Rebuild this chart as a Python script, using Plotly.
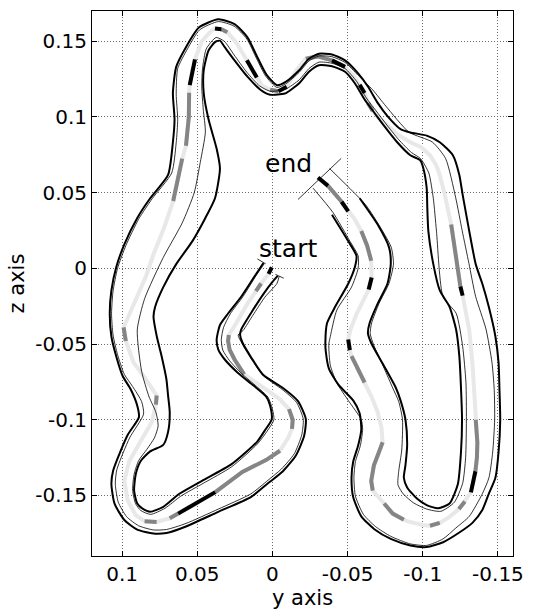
import plotly.graph_objects as go

# ---------------- data (y axis value, z axis value) ----------------
CENTER = [
    (0.0004, 0.0007), (0.0026, -0.0037), (0.0075, -0.0100), (0.0110, -0.0150), (0.0166, -0.0233),
    (0.0241, -0.0363), (0.0290, -0.0440), (0.0295, -0.0480), (0.0285, -0.0537), (0.0252, -0.0602),
    (0.0188, -0.0700), (0.0100, -0.0760), (0.0030, -0.0810), (-0.0050, -0.0865), (-0.0110, -0.0930),
    (-0.0135, -0.1000), (-0.0130, -0.1060), (-0.0105, -0.1120), (-0.0050, -0.1205), (0.0040, -0.1265),
    (0.0200, -0.1345), (0.0380, -0.1478), (0.0530, -0.1565), (0.0627, -0.1620), (0.0683, -0.1651),
    (0.0770, -0.1675), (0.0850, -0.1670), (0.0910, -0.1630), (0.0963, -0.1532), (0.0985, -0.1403),
    (0.0953, -0.1274), (0.0877, -0.1144), (0.0802, -0.1015), (0.0775, -0.0900), (0.0770, -0.0840),
    (0.0850, -0.0720), (0.0925, -0.0620), (0.0975, -0.0480), (0.0990, -0.0390), (0.0950, -0.0300),
    (0.0899, -0.0189), (0.0840, -0.0050), (0.0791, 0.0093), (0.0720, 0.0270), (0.0660, 0.0445),
    (0.0630, 0.0600), (0.0600, 0.0725), (0.0575, 0.0810), (0.0556, 0.1000), (0.0554, 0.1160),
    (0.0550, 0.1210), (0.0535, 0.1300), (0.0515, 0.1380), (0.0470, 0.1500), (0.0410, 0.1565),
    (0.0382, 0.1585), (0.0339, 0.1580), (0.0300, 0.1560), (0.0240, 0.1490), (0.0170, 0.1375),
    (0.0104, 0.1260), (0.0070, 0.1210), (0.0015, 0.1180), (-0.0040, 0.1170), (-0.0095, 0.1200),
    (-0.0160, 0.1310), (-0.0222, 0.1385), (-0.0300, 0.1400), (-0.0396, 0.1374), (-0.0483, 0.1331),
    (-0.0540, 0.1270), (-0.0580, 0.1212), (-0.0613, 0.1158), (-0.0635, 0.1093), (-0.0667, 0.1039),
    (-0.0700, 0.1000), (-0.0765, 0.0941), (-0.0840, 0.0880), (-0.0917, 0.0833), (-0.0990, 0.0800),
    (-0.1048, 0.0747), (-0.1090, 0.0680), (-0.1113, 0.0617), (-0.1146, 0.0487), (-0.1189, 0.0290),
    (-0.1220, 0.0060), (-0.1250, -0.0120), (-0.1265, -0.0180), (-0.1290, -0.0300), (-0.1309, -0.0407),
    (-0.1330, -0.0624), (-0.1341, -0.0798), (-0.1352, -0.1000), (-0.1363, -0.1150), (-0.1360, -0.1250),
    (-0.1350, -0.1340), (-0.1320, -0.1480), (-0.1280, -0.1540), (-0.1240, -0.1590), (-0.1180, -0.1640),
    (-0.1113, -0.1681), (-0.1048, -0.1700), (-0.1000, -0.1695), (-0.0900, -0.1672), (-0.0874, -0.1660),
    (-0.0800, -0.1620), (-0.0743, -0.1553), (-0.0700, -0.1500), (-0.0667, -0.1468), (-0.0657, -0.1404),
    (-0.0675, -0.1300), (-0.0705, -0.1230), (-0.0733, -0.1149), (-0.0725, -0.1050), (-0.0700, -0.0950),
    (-0.0660, -0.0850), (-0.0613, -0.0754), (-0.0550, -0.0620), (-0.0526, -0.0580), (-0.0515, -0.0540),
    (-0.0504, -0.0470), (-0.0520, -0.0400), (-0.0560, -0.0300), (-0.0610, -0.0200), (-0.0640, -0.0140),
    (-0.0660, -0.0060), (-0.0657, 0.0050), (-0.0630, 0.0150), (-0.0591, 0.0246), (-0.0550, 0.0320),
    (-0.0504, 0.0376), (-0.0460, 0.0440), (-0.0420, 0.0490), (-0.0370, 0.0545), (-0.0303, 0.0600),
]
# index ranges of the centre line drawn mid grey / black
GRAY_RUNS = [(2, 3), (6, 10), (14, 16), (18, 21), (23, 24), (25, 26), (33, 34), (37, 38), (44, 46),
             (47, 49), (56, 57), (62, 63), (66, 68), (73, 74), (84, 86), (92, 95), (97, 98), (100, 101),
             (104, 106), (108, 112), (116, 118), (126, 128), (131, 133)]
BLACK_RUNS = [(0, 1), (21, 23), (50, 52), (55, 56), (59, 60), (63, 64), (68, 69), (71, 72), (86, 87),
              (95, 96), (119, 120), (124, 125), (130, 131), (133, 134)]

OUTER = [
    (-0.0035, -0.0050), (0.0000, -0.0090), (0.0058, -0.0167), (0.0144, -0.0298), (0.0209, -0.0407),
    (0.0215, -0.0440), (0.0198, -0.0493), (0.0140, -0.0590), (0.0062, -0.0703), (-0.0070, -0.0790),
    (-0.0170, -0.0877), (-0.0222, -0.0995), (-0.0211, -0.1106), (-0.0157, -0.1234), (-0.0070, -0.1340),
    (0.0030, -0.1420), (0.0144, -0.1511), (0.0360, -0.1608), (0.0575, -0.1705), (0.0705, -0.1748),
    (0.0791, -0.1752), (0.0899, -0.1726), (0.0985, -0.1662), (0.1050, -0.1554), (0.1071, -0.1425),
    (0.1060, -0.1338), (0.0963, -0.1101), (0.0888, -0.0983), (0.0899, -0.0907), (0.0942, -0.0800),
    (0.0996, -0.0711), (0.1039, -0.0580), (0.1071, -0.0450), (0.1082, -0.0298), (0.1071, -0.0146),
    (0.1039, 0.0007), (0.0985, 0.0159), (0.0899, 0.0333), (0.0813, 0.0463), (0.0694, 0.0617),
    (0.0662, 0.0833), (0.0651, 0.0985), (0.0662, 0.1158), (0.0640, 0.1331), (0.0575, 0.1461),
    (0.0489, 0.1591), (0.0360, 0.1645), (0.0252, 0.1613), (0.0166, 0.1526), (0.0101, 0.1396),
    (0.0040, 0.1280), (-0.0030, 0.1210), (-0.0091, 0.1234), (-0.0178, 0.1309), (-0.0243, 0.1385),
    (-0.0309, 0.1418), (-0.0396, 0.1413), (-0.0483, 0.1374), (-0.0570, 0.1288), (-0.0635, 0.1201),
    (-0.0700, 0.1093), (-0.0765, 0.1006), (-0.0852, 0.0920), (-0.0917, 0.0898), (-0.1026, 0.0877),
    (-0.1113, 0.0833), (-0.1200, 0.0747), (-0.1243, 0.0617), (-0.1265, 0.0487), (-0.1309, 0.0246),
    (-0.1352, 0.0028), (-0.1396, -0.0102), (-0.1439, -0.0254), (-0.1483, -0.0450), (-0.1504, -0.0624),
    (-0.1510, -0.0800), (-0.1515, -0.1000), (-0.1504, -0.1213), (-0.1483, -0.1383), (-0.1439, -0.1489),
    (-0.1396, -0.1596), (-0.1330, -0.1681), (-0.1243, -0.1745), (-0.1135, -0.1809), (-0.1026, -0.1841),
    (-0.0917, -0.1830), (-0.0787, -0.1787), (-0.0678, -0.1723), (-0.0591, -0.1638), (-0.0537, -0.1511),
    (-0.0526, -0.1383), (-0.0537, -0.1277), (-0.0570, -0.1170), (-0.0591, -0.1064), (-0.0580, -0.0957),
    (-0.0537, -0.0872), (-0.0440, -0.0770), (-0.0375, -0.0660), (-0.0355, -0.0550), (-0.0352, -0.0493),
    (-0.0363, -0.0363), (-0.0417, -0.0254), (-0.0504, -0.0102), (-0.0548, 0.0007), (-0.0559, 0.0083),
    (-0.0504, 0.0180), (-0.0396, 0.0354),
]
INNER = [
    (0.0060, 0.0035), (0.0123, -0.0059), (0.0209, -0.0189), (0.0295, -0.0298), (0.0349, -0.0374),
    (0.0371, -0.0472), (0.0360, -0.0537), (0.0317, -0.0602), (0.0231, -0.0689), (0.0123, -0.0776),
    (0.0040, -0.0850), (0.0010, -0.0930), (0.0005, -0.0998), (0.0050, -0.1070), (0.0101, -0.1144),
    (0.0274, -0.1295), (0.0468, -0.1403), (0.0619, -0.1489), (0.0726, -0.1575), (0.0813, -0.1608),
    (0.0866, -0.1586), (0.0899, -0.1554), (0.0920, -0.1468), (0.0909, -0.1360), (0.0877, -0.1274),
    (0.0813, -0.1209), (0.0726, -0.1166), (0.0694, -0.1080), (0.0683, -0.0950), (0.0694, -0.0841),
    (0.0705, -0.0733), (0.0737, -0.0580), (0.0769, -0.0450), (0.0791, -0.0320), (0.0780, -0.0254),
    (0.0726, -0.0124), (0.0640, 0.0028), (0.0532, 0.0180), (0.0446, 0.0333), (0.0382, 0.0463),
    (0.0349, 0.0660), (0.0371, 0.0790), (0.0425, 0.0985), (0.0457, 0.1158), (0.0457, 0.1309),
    (0.0425, 0.1439), (0.0382, 0.1494), (0.0349, 0.1504), (0.0317, 0.1461), (0.0252, 0.1374),
    (0.0166, 0.1266), (0.0080, 0.1180), (0.0015, 0.1147), (-0.0050, 0.1150), (-0.0091, 0.1158),
    (-0.0178, 0.1223), (-0.0243, 0.1299), (-0.0309, 0.1342), (-0.0396, 0.1335), (-0.0483, 0.1299),
    (-0.0548, 0.1223), (-0.0613, 0.1115), (-0.0678, 0.1028), (-0.0743, 0.0941), (-0.0830, 0.0833),
    (-0.0917, 0.0747), (-0.0983, 0.0714), (-0.1004, 0.0660), (-0.1026, 0.0530), (-0.1030, 0.0400),
    (-0.1037, 0.0246), (-0.1070, 0.0028), (-0.1113, -0.0146), (-0.1178, -0.0254), (-0.1222, -0.0407),
    (-0.1243, -0.0580), (-0.1254, -0.0787), (-0.1261, -0.1000), (-0.1254, -0.1213), (-0.1233, -0.1426),
    (-0.1178, -0.1553), (-0.1102, -0.1585), (-0.1026, -0.1564), (-0.0961, -0.1521), (-0.0896, -0.1447),
    (-0.0874, -0.1383), (-0.0885, -0.1298), (-0.0896, -0.1170), (-0.0885, -0.1000), (-0.0852, -0.0872),
    (-0.0820, -0.0787), (-0.0743, -0.0646), (-0.0657, -0.0493), (-0.0635, -0.0428), (-0.0646, -0.0363),
    (-0.0700, -0.0233), (-0.0765, -0.0102), (-0.0787, 0.0028), (-0.0776, 0.0137), (-0.0700, 0.0289),
    (-0.0580, 0.0463),
]
THIN_OUTER = [
    (-0.0045, -0.0052), (-0.0030, -0.0100), (0.0050, -0.0190), (0.0130, -0.0310), (0.0195, -0.0410),
    (0.0228, -0.0440), (0.0200, -0.0500), (0.0140, -0.0600), (0.0060, -0.0710), (-0.0065, -0.0800),
    (-0.0160, -0.0885), (-0.0205, -0.0995), (-0.0195, -0.1100), (-0.0145, -0.1225), (-0.0060, -0.1325),
    (0.0030, -0.1400), (0.0144, -0.1490), (0.0360, -0.1590), (0.0575, -0.1685), (0.0705, -0.1725),
    (0.0791, -0.1728), (0.0890, -0.1700), (0.0970, -0.1640), (0.1025, -0.1545), (0.1045, -0.1425),
    (0.1035, -0.1330), (0.0950, -0.1120), (0.0857, -0.0963), (0.0870, -0.0880), (0.0930, -0.0780),
    (0.0985, -0.0700), (0.1030, -0.0570), (0.1060, -0.0440), (0.1070, -0.0300), (0.1060, -0.0150),
    (0.1030, 0.0000), (0.0975, 0.0150), (0.0890, 0.0325), (0.0800, 0.0460), (0.0670, 0.0630),
    (0.0640, 0.0830), (0.0630, 0.0985), (0.0640, 0.1150), (0.0630, 0.1320), (0.0565, 0.1450),
    (0.0485, 0.1575), (0.0360, 0.1630), (0.0255, 0.1600), (0.0170, 0.1515), (0.0105, 0.1385),
    (0.0045, 0.1270), (-0.0030, 0.1195), (-0.0091, 0.1220), (-0.0178, 0.1295), (-0.0243, 0.1370),
    (-0.0309, 0.1403), (-0.0396, 0.1398), (-0.0483, 0.1360), (-0.0570, 0.1275), (-0.0666, 0.1180),
    (-0.0755, 0.1071), (-0.0909, 0.0899), (-0.1064, 0.0834), (-0.1152, 0.0725), (-0.1219, 0.0466),
    (-0.1262, 0.0249), (-0.1307, 0.0032), (-0.1351, -0.0184), (-0.1420, -0.0400), (-0.1460, -0.0620),
    (-0.1475, -0.0800), (-0.1478, -0.1000), (-0.1465, -0.1213), (-0.1440, -0.1383), (-0.1396, -0.1489),
    (-0.1309, -0.1638), (-0.1220, -0.1715), (-0.1135, -0.1787), (-0.1026, -0.1830), (-0.0917, -0.1820),
    (-0.0787, -0.1770), (-0.0685, -0.1705), (-0.0605, -0.1625), (-0.0552, -0.1505), (-0.0542, -0.1383),
    (-0.0552, -0.1277), (-0.0585, -0.1170), (-0.0600, -0.1064), (-0.0591, -0.1000), (-0.0504, -0.0872),
    (-0.0430, -0.0760), (-0.0385, -0.0640), (-0.0375, -0.0500), (-0.0385, -0.0450), (-0.0428, -0.0276),
    (-0.0526, -0.0124), (-0.0570, 0.0000), (-0.0570, 0.0083), (-0.0515, 0.0180), (-0.0402, 0.0370),
    (-0.0270, 0.0530),
]
THIN_INNER = [
    (0.0055, 0.0030), (0.0110, -0.0050), (0.0195, -0.0185), (0.0280, -0.0300), (0.0325, -0.0390),
    (0.0340, -0.0470), (0.0330, -0.0540), (0.0285, -0.0610), (0.0205, -0.0695), (0.0105, -0.0780),
    (0.0030, -0.0850), (0.0000, -0.0930), (-0.0010, -0.1000), (0.0035, -0.1075), (0.0100, -0.1160),
    (0.0270, -0.1310), (0.0460, -0.1420), (0.0610, -0.1505), (0.0715, -0.1585), (0.0810, -0.1625),
    (0.0875, -0.1600), (0.0910, -0.1555), (0.0930, -0.1465), (0.0920, -0.1360), (0.0890, -0.1270),
    (0.0835, -0.1195), (0.0785, -0.1120), (0.0760, -0.1040), (0.0775, -0.0950), (0.0820, -0.0850),
    (0.0870, -0.0680), (0.0899, -0.0407), (0.0850, -0.0200), (0.0726, 0.0072), (0.0600, 0.0300),
    (0.0520, 0.0500), (0.0480, 0.0700), (0.0446, 0.0900), (0.0460, 0.1050), (0.0470, 0.1200),
    (0.0465, 0.1320), (0.0440, 0.1450), (0.0375, 0.1525), (0.0320, 0.1500), (0.0255, 0.1410),
    (0.0170, 0.1295), (0.0085, 0.1205), (0.0015, 0.1170), (-0.0050, 0.1175), (-0.0091, 0.1185),
    (-0.0178, 0.1245), (-0.0243, 0.1320), (-0.0309, 0.1362), (-0.0396, 0.1355), (-0.0483, 0.1320),
    (-0.0560, 0.1235), (-0.0625, 0.1125), (-0.0690, 0.1040), (-0.0755, 0.0955), (-0.0840, 0.0850),
    (-0.0925, 0.0765), (-0.0985, 0.0725), (-0.1040, 0.0630), (-0.1070, 0.0463), (-0.1091, 0.0246),
    (-0.1135, -0.0189), (-0.1222, -0.0297), (-0.1265, -0.0515), (-0.1287, -0.0754), (-0.1290, -0.1000),
    (-0.1285, -0.1250), (-0.1265, -0.1420), (-0.1210, -0.1545), (-0.1120, -0.1605), (-0.1026, -0.1590),
    (-0.0940, -0.1550), (-0.0870, -0.1490), (-0.0835, -0.1430), (-0.0840, -0.1340), (-0.0860, -0.1200),
    (-0.0865, -0.1000), (-0.0840, -0.0880), (-0.0800, -0.0790), (-0.0743, -0.0660), (-0.0675, -0.0510),
    (-0.0650, -0.0430), (-0.0660, -0.0360), (-0.0710, -0.0230), (-0.0775, -0.0100), (-0.0805, 0.0028),
    (-0.0790, 0.0140), (-0.0700, 0.0300), (-0.0620, 0.0420), (-0.0534, 0.0509), (-0.0380, 0.0660),
]
START_CAP = [(0.0100, 0.0062), (0.0045, 0.0030), None, (-0.0020, -0.0040), (-0.0075, -0.0065)]
END_CAP = [(-0.0170, 0.0455), (-0.0457, 0.0726)]
LABELS = [("start", -0.0105, 0.0128), ("end", -0.0105, 0.0690)]

X_TICKS = [0.1, 0.05, 0, -0.05, -0.1, -0.15]
X_TICK_TEXT = ["0.1", "0.05", "0", "-0.05", "-0.1", "-0.15"]
Z_TICKS = [0.15, 0.1, 0.05, 0, -0.05, -0.1, -0.15]
Z_TICK_TEXT = ["0.15", "0.1", "0.05", "0", "-0.05", "-0.1", "-0.15"]
X_RANGE = [0.12, -0.16]
Z_RANGE = [-0.19, 0.17]


def split(points):
    ys = [p[0] if p is not None else None for p in points]
    zs = [p[1] if p is not None else None for p in points]
    return ys, zs


def runs(points, ranges):
    sel = []
    for a, b in ranges:
        sel.extend(points[a:b + 1])
        sel.append(None)
    return split(sel)


FONT = "DejaVu Sans, Verdana, sans-serif"
fig = go.Figure()


def add(points_yz, color, width, shape="linear"):
    ys, zs = points_yz
    fig.add_trace(go.Scatter(x=ys, y=zs, mode="lines", hoverinfo="skip",
                             line=dict(color=color, width=width, shape=shape, smoothing=0.6)))


add(split(CENTER), "#e8e8e8", 4)
add(runs(CENTER, GRAY_RUNS), "#858585", 4)
add(runs(CENTER, BLACK_RUNS), "#000000", 4)
add(split(THIN_OUTER), "#000000", 0.8, "spline")
add(split(THIN_INNER), "#000000", 0.8, "spline")
add(split(OUTER), "#000000", 2, "spline")
add(split(INNER), "#000000", 2, "spline")
add(split(START_CAP), "#000000", 0.8)
add(split(END_CAP), "#000000", 0.8)

for text, yv, zv in LABELS:
    fig.add_annotation(x=yv, y=zv, text=text, showarrow=False,
                       font=dict(family=FONT, size=25, color="black"),
                       xanchor="center", yanchor="middle")

axis_common = dict(
    showline=True, linecolor="black", linewidth=1, mirror="ticks",
    ticks="inside", ticklen=5, tickcolor="black", tickwidth=1,
    showgrid=True, gridcolor="#6a6a6a", gridwidth=1, griddash="1px,2px",
    zeroline=False, tickfont=dict(family=FONT, size=20, color="black"),
)
fig.update_layout(
    width=534, height=616,
    margin=dict(l=92, r=20, t=10, b=52),
    paper_bgcolor="white", plot_bgcolor="white",
    showlegend=False,
    xaxis=dict(range=X_RANGE, tickvals=X_TICKS, ticktext=X_TICK_TEXT,
               title=dict(text="y axis", font=dict(family=FONT, size=21, color="black"), standoff=5),
               **axis_common),
    yaxis=dict(range=Z_RANGE, tickvals=Z_TICKS, ticktext=Z_TICK_TEXT,
               title=dict(text="z axis", font=dict(family=FONT, size=21, color="black"), standoff=4),
               **axis_common),
)
fig.write_html(
    "out.html",
    config={"displayModeBar": False},
    post_script="document.body.style.margin='0';document.body.style.padding='0';"
                "document.body.style.overflow='hidden';",
)
